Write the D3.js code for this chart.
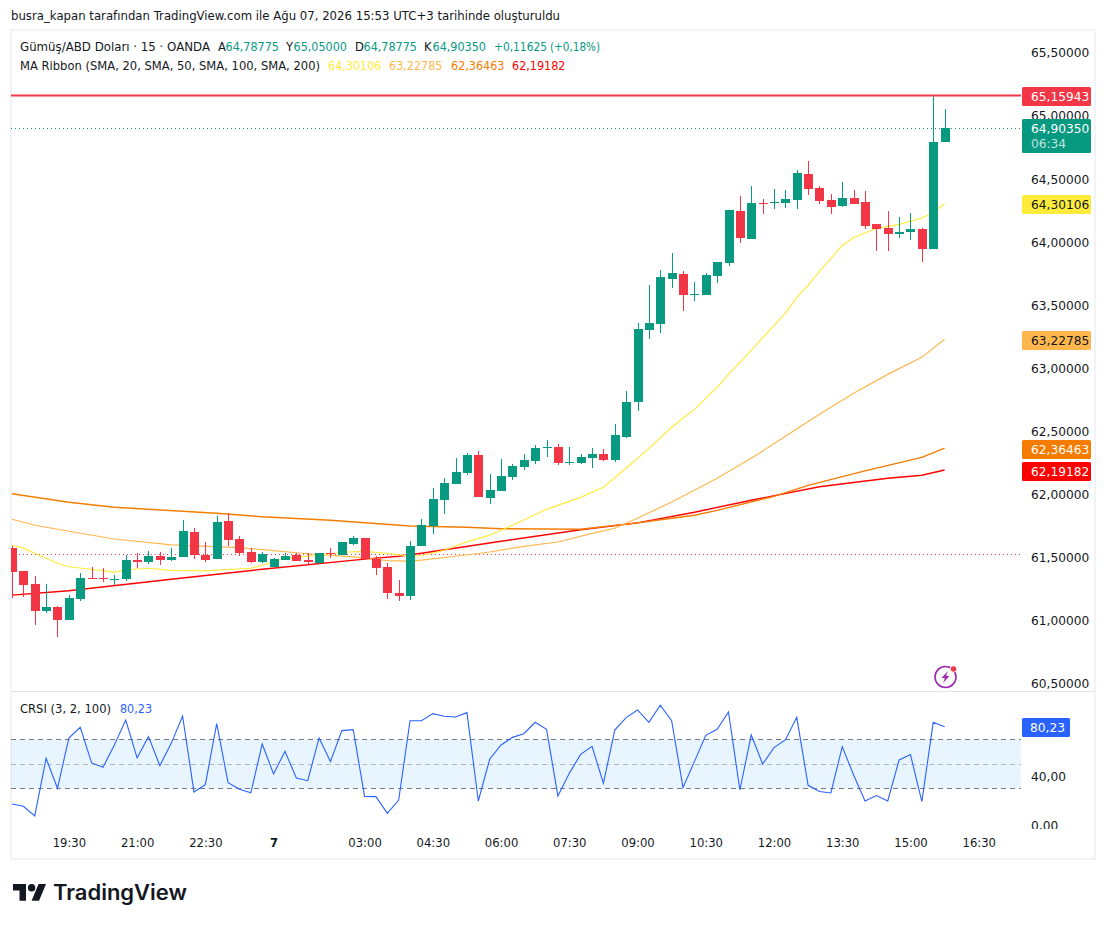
<!DOCTYPE html>
<html>
<head>
<meta charset="utf-8">
<script src="https://cdnjs.cloudflare.com/ajax/libs/d3/7.8.5/d3.min.js"></script>
<style>
html,body{margin:0;padding:0;background:#fff}
svg{display:block}
text{font-family:"DejaVu Sans",sans-serif}
</style>
</head>
<body>
<div id="chart"></div>
<script>
// ---------- data ----------
const opens  = [61.572,61.390,61.287,61.073,61.105,61.002,61.168,61.334,61.334,61.318,61.326,61.477,61.461,61.508,61.477,61.500,61.699,61.516,61.485,61.786,61.643,61.540,61.461,61.421,61.477,61.516,61.477,61.453,61.532,61.516,61.604,61.651,61.485,61.421,61.216,61.192,61.588,61.746,61.952,62.079,62.166,62.308,61.968,62.023,62.134,62.213,62.261,62.364,62.372,62.245,62.245,62.285,62.316,62.269,62.451,62.727,63.298,63.345,63.701,63.741,63.575,63.575,63.725,63.828,64.240,64.018,64.303,64.303,64.303,64.327,64.533,64.422,64.327,64.287,64.343,64.311,64.137,64.105,64.058,64.081,64.097,63.939,64.78775];
const highs  = [61.587,61.390,61.350,61.287,61.113,61.200,61.374,61.421,61.413,61.358,61.516,61.532,61.548,61.540,61.572,61.794,61.730,61.619,61.825,61.849,61.667,61.572,61.540,61.493,61.532,61.532,61.532,61.532,61.572,61.619,61.667,61.651,61.508,61.453,61.318,61.627,61.801,62.047,62.126,62.285,62.324,62.340,62.158,62.277,62.237,62.316,62.388,62.427,62.396,62.372,62.316,62.364,62.356,62.554,62.814,63.353,63.654,63.773,63.907,63.765,63.678,63.749,63.836,64.248,64.359,64.438,64.335,64.414,64.406,64.565,64.636,64.438,64.382,64.470,64.406,64.398,64.137,64.240,64.192,64.224,64.105,65.15943,65.05000];
const lows   = [61.176,61.184,60.962,61.057,60.867,61.002,61.152,61.326,61.303,61.279,61.311,61.414,61.445,61.437,61.469,61.500,61.485,61.461,61.485,61.588,61.508,61.453,61.453,61.421,61.477,61.469,61.445,61.445,61.493,61.516,61.596,61.477,61.358,61.168,61.152,61.160,61.588,61.683,61.841,62.079,62.150,61.976,61.920,62.023,62.110,62.189,62.237,62.293,62.229,62.229,62.237,62.205,62.261,62.253,62.443,62.656,63.226,63.274,63.630,63.448,63.527,63.575,63.670,63.804,63.986,64.018,64.216,64.256,64.264,64.256,64.374,64.295,64.216,64.272,64.295,64.097,63.923,63.923,64.026,64.010,63.836,63.939,64.78775];
const closes = [61.382,61.279,61.073,61.105,61.002,61.176,61.334,61.326,61.326,61.326,61.477,61.461,61.508,61.477,61.500,61.706,61.516,61.477,61.778,61.635,61.532,61.461,61.524,61.485,61.508,61.469,61.461,61.532,61.524,61.619,61.651,61.485,61.414,61.216,61.192,61.588,61.754,61.960,62.087,62.174,62.308,61.976,62.031,62.142,62.221,62.269,62.364,62.372,62.245,62.253,62.293,62.316,62.269,62.467,62.727,63.306,63.353,63.717,63.749,63.575,63.583,63.733,63.836,64.248,64.026,64.303,64.295,64.311,64.335,64.541,64.414,64.319,64.279,64.343,64.295,64.121,64.097,64.058,64.081,64.097,63.939,64.78775,64.90350];

const ma20Bars   = [0,1,2,3,4,5,7,9,10,12,14,17,21,22,23,24,25,27,29,31,33,35,36,38,40,42,44,47,50,52,54,56,58,60,62,63,65,67,68,69,70,71,73,74,76,78,80,81,82];
const ma20Values = [61.595,61.572,61.532,61.492,61.453,61.425,61.405,61.382,61.401,61.413,61.397,61.392,61.413,61.437,61.463,61.492,61.500,61.516,61.540,61.546,61.532,61.508,61.512,61.556,61.622,61.675,61.754,61.880,61.975,62.055,62.205,62.363,62.530,62.672,62.846,62.949,63.139,63.337,63.432,63.559,63.654,63.765,63.971,64.034,64.105,64.137,64.188,64.232,64.30106];
const ma50Bars   = [0,2,5,9,14,20,22,26,30,33,35,36,39,42,45,48,51,53,55,58,60,62,65,68,71,74,77,80,82];
const ma50Values = [61.801,61.754,61.706,61.645,61.598,61.576,61.560,61.528,61.503,61.473,61.469,61.477,61.508,61.542,61.587,61.621,61.690,61.730,61.809,61.938,62.031,62.126,62.284,62.458,62.633,62.799,62.949,63.084,63.22785];
const ma100Bars  = [0,5,9,18,22,28,35,40,43,50,55,58,60,62,67,70,75,80,82];
const ma100Values= [62.003,61.936,61.896,61.849,61.821,61.793,61.748,61.738,61.726,61.722,61.773,61.809,61.833,61.872,61.983,62.070,62.185,62.292,62.36463];
const ma200Bars  = [0,5,14,22,31,34,36,43,50,55,60,65,71,77,80,82];
const ma200Values= [61.200,61.235,61.326,61.405,61.485,61.508,61.532,61.627,61.718,61.773,61.857,61.952,62.059,62.126,62.150,62.19182];

const crsi = [17.2,15.3,7.4,54.5,30,71.1,79.8,50.7,47.1,65.4,85.8,54.8,72.2,48.5,66.7,89.1,27,33,82.8,34.6,29.2,26.4,66.2,41.7,60.2,38.4,36.2,71.1,51.8,77.1,77.9,23.4,23.2,9.5,20.4,85.2,85.2,91,88.8,88.2,91.8,19.6,53.7,65.4,71.6,74.6,83.9,78.2,23.7,42.2,57.7,64.3,34.1,77.6,87.7,94,83.9,97.8,85.2,30.5,51.8,73.3,78.2,92.3,28.6,73.5,49.8,63.2,69.5,88,32.4,27.3,26.2,64,40.9,19.6,24,19.6,53.1,57.5,19.1,83.9,80.23];

const priceTicks = [65.5,65,64.5,64,63.5,63,62.5,62,61.5,61,60.5];
const crsiTicks  = [40,0];
const timeBars   = [5,11,17,23,31,37,43,49,55,61,67,73,79,85];
const timeLabels = ["19:30","21:00","22:30","7","03:00","04:30","06:00","07:30","09:00","10:30","12:00","13:30","15:00","16:30"];

const titleText = "busra_kapan tarafından TradingView.com ile Ağu 07, 2026 15:53 UTC+3 tarihinde oluşturuldu";
const highLevel = 65.15943, lastPrice = 64.9035, prevClose = 61.5233;
const maLabels  = ["64,30106","63,22785","62,36463","62,19182"];
const maPrices  = [64.30106,63.22785,62.36463,62.19182];
const maColours = ["#FFEB3B","#FFB74D","#F57C00","#FF0000"];
const up="#089981", down="#F23645", blue="#2962FF", ink="#131722";

// ---------- geometry ----------
const W=1106,H=925, paneL=11, paneR=1021, mainT=31, mainB=691, subT=692, subB=829;
const svg=d3.select("#chart").append("svg").attr("width",W).attr("height",H);
const x=d3.scaleLinear().domain([0,82]).range([12,944.6]);
const y=d3.scaleLinear().domain([60.5,65.5]).range([683.5,52.4]);
const yc=d3.scaleLinear().domain([0,100]).range([825,702.6]);
const fmt=v=>d3.format(".5f")(v).replace(".",",");
const fmtC=v=>d3.format(".2f")(v).replace(".",",");

const defs=svg.append("defs");
defs.append("clipPath").attr("id","cm").append("rect").attr("x",paneL).attr("y",mainT).attr("width",paneR-paneL).attr("height",mainB-mainT);
defs.append("clipPath").attr("id","cs").append("rect").attr("x",paneL).attr("y",subT).attr("width",paneR-paneL).attr("height",subB-subT);
defs.append("clipPath").attr("id","ca").append("rect").attr("x",paneR).attr("y",subT).attr("width",W-paneR).attr("height",subB-subT);

// frame
svg.append("text").attr("x",11).attr("y",20).attr("font-size",11.5).attr("fill",ink).attr("textLength",549).attr("lengthAdjust","spacingAndGlyphs").text(titleText);
svg.append("rect").attr("x",11).attr("y",30).attr("width",1084).attr("height",829).attr("fill","none").attr("stroke","#f0f3fa").attr("stroke-width",2);
svg.append("line").attr("x1",11).attr("x2",1095).attr("y1",691.5).attr("y2",691.5).attr("stroke","#e0e3eb");

// main pane
const m=svg.append("g").attr("clip-path","url(#cm)");
const hl=(v,c,d,w)=>m.append("line").attr("x1",paneL).attr("x2",paneR).attr("y1",Math.round(y(v))+.5).attr("y2",Math.round(y(v))+.5).attr("stroke",c).attr("stroke-width",w).attr("stroke-dasharray",d);
hl(prevClose,down,"1 3",1);
hl(lastPrice,up,"1 3",1);
const mkLine=d3.line().x(d=>x(d[0])).y(d=>y(d[1]));
[[ma200Bars,ma200Values,3],[ma100Bars,ma100Values,2],[ma50Bars,ma50Values,1],[ma20Bars,ma20Values,0]].forEach(([b,v,k])=>{
  m.append("path").attr("d",mkLine(b.map((t,i)=>[t,v[i]]))).attr("fill","none").attr("stroke",maColours[k]).attr("stroke-width",k>=2?1.4:1.2);
});
const bars=d3.range(opens.length);
const cg=m.append("g").attr("shape-rendering","crispEdges");
cg.selectAll("line").data(bars).join("line")
  .attr("x1",i=>Math.round(x(i))+.5).attr("x2",i=>Math.round(x(i))+.5)
  .attr("y1",i=>y(highs[i])).attr("y2",i=>y(lows[i]))
  .attr("stroke",i=>closes[i]>=opens[i]?up:down);
cg.selectAll("rect").data(bars).join("rect")
  .attr("x",i=>Math.round(x(i))-4).attr("width",9)
  .attr("y",i=>y(Math.max(opens[i],closes[i])))
  .attr("height",i=>Math.max(1,Math.abs(y(opens[i])-y(closes[i]))))
  .attr("fill",i=>closes[i]>=opens[i]?up:down);
m.append("line").attr("x1",paneL).attr("x2",paneR).attr("y1",Math.round(y(highLevel))+.5).attr("y2",Math.round(y(highLevel))+.5).attr("stroke",down).attr("stroke-width",2);

// price axis
const axP=svg.append("g").attr("transform",`translate(1031,0)`).call(d3.axisRight(y).tickValues(priceTicks).tickFormat(fmt).tickSize(0).tickPadding(0));
axP.select(".domain").remove();
axP.selectAll("text").attr("font-family",'"DejaVu Sans",sans-serif').attr("font-size",12.2).attr("fill",ink).attr("dy","0.36em");

// sub pane
const s=svg.append("g").attr("clip-path","url(#cs)");
s.append("rect").attr("x",paneL).attr("width",paneR-paneL).attr("y",yc(70)).attr("height",yc(30)-yc(70)).attr("fill","#2196F3").attr("fill-opacity",.1);
[[70,1],[50,.5],[30,1]].forEach(([v,o])=>s.append("line").attr("x1",paneL).attr("x2",paneR).attr("y1",Math.round(yc(v))+.5).attr("y2",Math.round(yc(v))+.5).attr("stroke","#787B86").attr("stroke-opacity",o).attr("stroke-dasharray","5 4"));
s.append("path").attr("d",d3.line().x((d,i)=>x(i)).y(d=>yc(d))(crsi)).attr("fill","none").attr("stroke",blue).attr("stroke-width",1.1);
const axC=svg.append("g").attr("clip-path","url(#ca)").append("g").attr("transform",`translate(1031,0)`).call(d3.axisRight(yc).tickValues(crsiTicks).tickFormat(fmtC).tickSize(0).tickPadding(0));
axC.select(".domain").remove();
axC.selectAll("text").attr("font-family",'"DejaVu Sans",sans-serif').attr("font-size",12.2).attr("fill",ink).attr("dy","0.36em");

// time axis
const axT=svg.append("g").attr("transform","translate(0,838.5)").call(d3.axisBottom(x).tickValues(timeBars).tickFormat(d=>timeLabels[timeBars.indexOf(d)]).tickSize(0).tickPadding(0));
axT.select(".domain").remove();
axT.selectAll("text").attr("font-family",'"DejaVu Sans",sans-serif').attr("font-size",11.6).attr("fill",ink).attr("dy","0.71em")
  .attr("font-weight",d=>d===23?"bold":"normal");

// tags
function tag(v,yTop,h,fill,tc,label,sub){
  svg.append("rect").attr("x",1022).attr("y",yTop).attr("width",69).attr("height",h).attr("rx",1.5).attr("fill",fill);
  svg.append("text").attr("x",1031).attr("y",yTop+14).attr("font-size",12.2).attr("fill",tc).text(label);
  if(sub) svg.append("text").attr("x",1031).attr("y",yTop+29).attr("font-size",12.2).attr("fill",tc).attr("fill-opacity",.75).text(sub);
}
tag(highLevel,87,19,down,"#fff",fmt(highLevel));
tag(lastPrice,119,34,up,"#fff",fmt(lastPrice),"06:34");
const tagTops=[195,331,440,462], tagInk=[ink,ink,"#fff","#fff"];
maPrices.forEach((p,i)=>tag(p,tagTops[i],19,maColours[i],tagInk[i],maLabels[i]));
svg.append("rect").attr("x",1022).attr("y",718).attr("width",48).attr("height",19).attr("rx",1.5).attr("fill",blue);
svg.append("text").attr("x",1030).attr("y",732).attr("font-size",12.2).attr("fill","#fff").text(fmtC(crsi[82]));

// legends
const lg=(t,xp,yp,c,len)=>{
  const e=svg.append("text").attr("x",xp).attr("y",yp).attr("font-size",11.6).attr("fill",c).text(t);
  if(len) e.attr("textLength",len).attr("lengthAdjust","spacingAndGlyphs");
};
lg("Gümüş/ABD Doları · 15 · OANDA",20,51,ink,190);
lg("A",218,51,ink); lg("64,78775",225.5,51,up,53.5);
lg("Y",286,51,ink); lg("65,05000",293.5,51,up,53.5);
lg("D",355,51,ink); lg("64,78775",363.5,51,up,53.5);
lg("K",424,51,ink); lg("64,90350",432.5,51,up,53.5);
lg("+0,11625",494,51,up,53); lg("(+0,18%)",550,51,up,50);
lg("MA Ribbon (SMA, 20, SMA, 50, SMA, 100, SMA, 200)",20,69.5,ink,300);
[328,389,451,512].forEach((xp,i)=>lg(maLabels[i],xp,69.5,maColours[i],53.5));
lg("CRSI (3, 2, 100)",20,713,ink,91);
lg(fmtC(crsi[82]),120,713,blue,32);

// flash icon
const ic=svg.append("g").attr("transform","translate(945.5,677)");
ic.append("circle").attr("r",10.5).attr("fill","none").attr("stroke","#9C27B0").attr("stroke-width",1.6);
ic.append("path").attr("d","M2.5,-6 L-4,1 L-0.6,1 L-2.5,6 L4,-1 L0.6,-1 Z").attr("fill","#9C27B0");
ic.append("circle").attr("cx",8).attr("cy",-8).attr("r",3.2).attr("fill","#F23645").attr("stroke","#fff").attr("stroke-width",.8);

// brand
const b=svg.append("g").attr("transform","translate(13,877.5) scale(.93)");
b.append("path").attr("d","M14 25H7V14H0V7h14v18zM28 25h-8l7.5-18h8L28 25z").attr("fill","#131722");
b.append("circle").attr("cx",20).attr("cy",11).attr("r",4).attr("fill","#131722");
svg.append("text").attr("x",53).attr("y",900).attr("font-size",21).attr("font-weight",600).attr("fill","#131722").attr("textLength",134).attr("lengthAdjust","spacingAndGlyphs").style("font-family","Inter, sans-serif").text("TradingView");
</script>
</body>
</html>
